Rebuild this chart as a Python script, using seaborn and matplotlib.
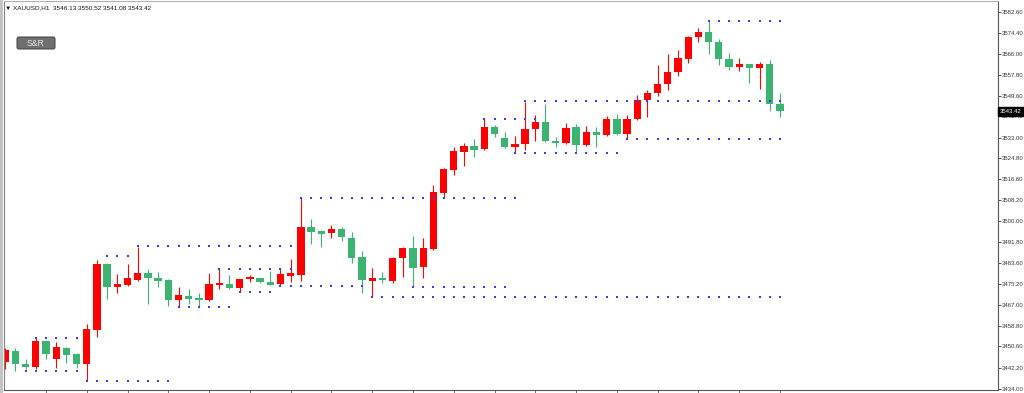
import numpy as np
import pandas as pd
import matplotlib
matplotlib.use("Agg")
import matplotlib.pyplot as plt
import matplotlib.transforms as mtransforms
from matplotlib.patches import FancyBboxPatch, Rectangle
import seaborn as sns

# ---------------- data (XAUUSD H1) ----------------
opens = [3444.46, 3448.80, 3443.67, 3442.48, 3452.74, 3445.64, 3449.98, 3447.61, 3443.67, 3457.09,
         3483.13, 3474.06, 3474.84, 3476.82, 3479.58, 3477.61, 3476.82, 3468.92, 3470.50, 3469.71,
         3468.92, 3474.84, 3475.24, 3473.66, 3477.21, 3477.61, 3475.63, 3475.24, 3478.79, 3478.79,
         3497.73, 3496.15, 3495.36, 3496.94, 3493.39, 3485.89, 3476.42, 3477.61, 3476.42, 3485.50,
         3489.45, 3481.95, 3489.05, 3511.15, 3520.23, 3527.33, 3529.70, 3528.51, 3537.19, 3532.85,
         3529.30, 3530.49, 3536.41, 3539.17, 3531.67, 3530.88, 3537.19, 3530.09, 3535.22, 3534.04,
         3540.35, 3534.43, 3540.35, 3547.85, 3550.61, 3554.16, 3558.90, 3564.03, 3572.71, 3574.69,
         3570.74, 3564.03, 3560.87, 3562.05, 3560.48, 3562.05, 3546.13]
highs = [3449.98, 3449.98, 3445.64, 3453.93, 3453.14, 3452.35, 3450.38, 3448.01, 3459.45, 3484.71,
         3483.53, 3479.19, 3483.13, 3489.84, 3481.16, 3479.97, 3477.21, 3474.06, 3473.27, 3471.69,
         3479.58, 3481.16, 3478.79, 3477.21, 3478.79, 3477.80, 3480.37, 3481.16, 3485.10, 3509.57,
         3500.89, 3496.55, 3498.52, 3497.73, 3495.76, 3488.26, 3481.55, 3479.97, 3485.89, 3489.84,
         3494.18, 3493.39, 3514.31, 3521.02, 3529.30, 3530.88, 3532.46, 3540.75, 3537.99, 3535.22,
         3533.64, 3547.06, 3541.93, 3546.27, 3533.25, 3538.77, 3538.38, 3537.59, 3537.19, 3541.54,
         3542.33, 3541.93, 3549.82, 3551.80, 3561.66, 3566.00, 3567.58, 3573.11, 3576.26, 3579.03,
         3571.92, 3566.40, 3564.43, 3562.25, 3562.85, 3563.63, 3550.52]
lows = [3441.70, 3440.91, 3441.70, 3441.70, 3445.64, 3442.09, 3444.06, 3442.09, 3436.96, 3454.32,
        3469.32, 3471.69, 3474.45, 3476.42, 3467.35, 3474.06, 3466.56, 3466.16, 3467.35, 3466.56,
        3468.53, 3473.27, 3473.27, 3472.48, 3476.03, 3475.63, 3474.84, 3474.84, 3476.03, 3476.42,
        3491.02, 3489.84, 3493.39, 3492.21, 3483.53, 3471.69, 3470.11, 3475.63, 3475.63, 3478.00,
        3474.06, 3477.61, 3488.66, 3509.57, 3518.25, 3521.81, 3525.36, 3528.12, 3533.25, 3529.10,
        3526.94, 3528.12, 3531.67, 3531.47, 3529.30, 3530.68, 3527.33, 3529.89, 3529.30, 3533.84,
        3534.23, 3532.85, 3540.15, 3541.14, 3549.43, 3551.80, 3557.32, 3562.45, 3570.74, 3566.00,
        3561.66, 3559.69, 3559.29, 3554.56, 3552.19, 3543.51, 3541.08]
closes = [3449.19, 3443.67, 3442.48, 3452.74, 3447.61, 3450.38, 3447.22, 3443.67, 3457.48, 3483.13,
          3474.06, 3475.24, 3477.61, 3479.58, 3477.61, 3476.42, 3468.92, 3470.90, 3469.32, 3468.92,
          3475.24, 3475.63, 3473.66, 3477.21, 3478.00, 3476.03, 3475.24, 3479.19, 3479.19, 3497.73,
          3495.76, 3494.97, 3496.94, 3493.79, 3485.50, 3476.82, 3477.61, 3476.82, 3485.50, 3489.45,
          3481.55, 3489.45, 3511.54, 3520.62, 3527.72, 3529.70, 3528.12, 3537.19, 3534.43, 3529.30,
          3530.49, 3536.41, 3539.17, 3531.67, 3530.88, 3536.80, 3530.09, 3535.22, 3534.04, 3540.35,
          3534.43, 3540.35, 3547.85, 3550.61, 3554.16, 3558.90, 3564.43, 3572.71, 3574.69, 3570.74,
          3564.03, 3560.87, 3562.05, 3560.48, 3562.05, 3546.20, 3543.42]

# support & resistance dotted levels (price, first bar, last bar)
sr_levels = [3453.93, 3440.91, 3436.96, 3490.23, 3486.29, 3466.16, 3481.16, 3472.08, 3474.45,
             3474.06, 3470.11, 3509.18, 3540.35, 3526.94, 3547.46, 3532.46, 3579.03]
sr_start = [3, 2, 8, 13, 10, 17, 21, 23, 27, 40, 36, 29, 47, 50, 51, 61, 69]
sr_end = [7, 7, 16, 28, 12, 22, 28, 26, 35, 49, 76, 50, 52, 60, 76, 76, 76]

ytick_values = [3582.60, 3574.40, 3566.00, 3557.80, 3549.60, 3541.40, 3533.00, 3524.80, 3516.60,
                3508.20, 3500.00, 3491.80, 3483.60, 3475.20, 3467.00, 3458.80, 3450.60, 3442.20,
                3434.00]
xtick_positions = list(range(4, 77, 4))

symbol = "XAUUSD,H1"
button_label = "S&R"

# ---------------- style ----------------
sns.set_style("white")
plt.rcParams["font.family"] = ["Liberation Sans", "DejaVu Sans"]

W, H = 1024, 393
fig = plt.figure(figsize=(W / 100, H / 100), dpi=100)
fig.patch.set_facecolor("white")

px_left, px_right, px_top, px_bottom = 4, 998, 1, 390
ax = fig.add_axes([px_left / W, (H - px_bottom) / H,
                   (px_right - px_left) / W, (px_bottom - px_top) / H])
ax.set_facecolor("white")

RED = "#ff0000"
GREEN = "#3cb371"

idx = np.arange(len(opens))
o = np.array(opens)
c = np.array(closes)
colors = np.where(c >= o, RED, GREEN)

# wicks
ax.vlines(idx, lows, highs, colors=colors, linewidth=0.8, zorder=2)
# bodies
body_h = np.abs(c - o)
min_h = 0.8
bottoms = np.minimum(o, c) - np.where(body_h < min_h, (min_h - body_h) / 2, 0)
heights = np.maximum(body_h, min_h)
ax.bar(idx, heights, bottom=bottoms, width=0.72, color=colors, linewidth=0, zorder=2)

# dotted S&R levels
rows = []
for lvl, s, e in zip(sr_levels, sr_start, sr_end):
    for k in range(s, e + 1):
        rows.append((k, lvl))
dots = pd.DataFrame(rows, columns=["bar", "level"])
sns.scatterplot(data=dots, x="bar", y="level", marker="s", s=2.2, color="#3a3aff",
                linewidth=0, ax=ax, zorder=3, legend=False)

# scales
ax.set_xlim(-0.12, 97.39)
ax.set_ylim(3433.41, 3586.92)
ax.set_xlabel("")
ax.set_ylabel("")

ax.yaxis.tick_right()
ax.set_yticks(ytick_values)
ax.set_yticklabels([f"{v:.2f}" for v in ytick_values])
ax.tick_params(axis="y", which="both", direction="out", length=2.2, width=0.6, pad=0.8,
               labelsize=4.3, colors="#333333", left=False, right=True)
ax.set_xticks(xtick_positions)
ax.set_xticklabels([])
ax.tick_params(axis="x", which="both", direction="out", length=2.2, width=0.6,
               colors="#555555", bottom=True, top=False)

for side, col, lw in [("left", "#808080", 0.8), ("top", "#b0b0b0", 0.8),
                      ("right", "#555555", 0.8), ("bottom", "#555555", 0.8)]:
    ax.spines[side].set_visible(True)
    ax.spines[side].set_color(col)
    ax.spines[side].set_linewidth(lw)

# left window border
fig.add_artist(Rectangle((0, 0), 3 / W, 1, transform=fig.transFigure,
                         facecolor="#c4c4c4", edgecolor="none", zorder=0))

# current price box
trans = mtransforms.blended_transform_factory(ax.transAxes, ax.transData)
ax.text(1.0022, closes[-1], f"{closes[-1]:.2f}", transform=trans, ha="left", va="center",
        fontsize=4.3, color="white", clip_on=False, zorder=6,
        bbox=dict(boxstyle="square,pad=0.35", fc="black", ec="black"))

# header
header = f"\u25bc {symbol}  {opens[-1]:.2f} {highs[-1]:.2f} {lows[-1]:.2f} {closes[-1]:.2f}"
fig.text(5 / W, 1 - 7.5 / H, header, ha="left", va="center", fontsize=4.6, color="#111111")

# S&R button
fig.add_artist(FancyBboxPatch((17, H - 49), 38, 12, boxstyle="round,pad=0,rounding_size=2",
                              transform=mtransforms.IdentityTransform(),
                              facecolor="#6f6f6f", edgecolor="#3f3f3f", linewidth=0.7, zorder=5))
fig.text(36 / W, 1 - 43 / H, button_label, ha="center", va="center", fontsize=6.3,
         color="#e4e4e4", zorder=6)

fig.savefig("out.png", dpi=100)
